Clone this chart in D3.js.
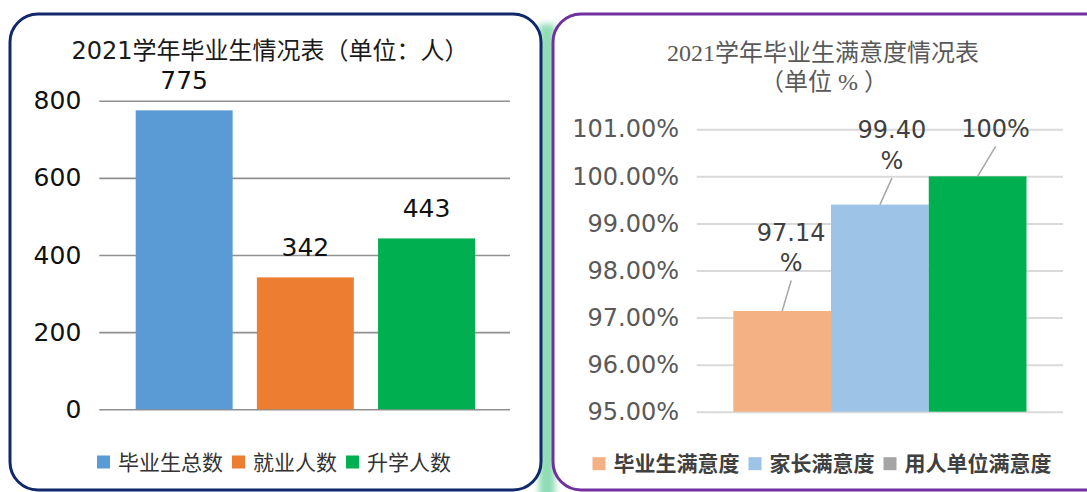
<!DOCTYPE html>
<html>
<head>
<meta charset="utf-8">
<script src="https://cdn.jsdelivr.net/npm/d3@7"></script>
<style>
  html, body { margin: 0; padding: 0; background: #fff; }
  svg { display: block; }
</style>
</head>
<body>
<svg id="chart" width="1087" height="492"></svg>
<script>
  // left chart data
  const countSeries = ['毕业生总数', '就业人数', '升学人数'];
  const countValues = [775, 342, 443];
  const countColors = ['#5b9bd5', '#ed7d31', '#00b050'];
  const countTicks = [0, 200, 400, 600, 800];

  // right chart data
  const rateSeries = ['毕业生满意度', '家长满意度', '用人单位满意度'];
  const rateValues = [97.14, 99.40, 100];
  const rateBarColors = ['#f4b183', '#9dc3e6', '#00b050'];
  const rateLegendColors = ['#f4b183', '#9dc3e6', '#a5a5a5'];
  const rateTicks = [95, 96, 97, 98, 99, 100, 101];

  // manual label placement (dx, dy of label centre from bar top centre)
  const rateLabelOffsets = [[9, -79], [12, -75], [18, -48]];

  const svg = d3.select('#chart');
  const sansFont = '"DejaVu Sans", "Noto Sans CJK SC", sans-serif';
  const cjkFont = '"Noto Sans CJK SC", sans-serif';

  // green glow between the two panels
  const defs = svg.append('defs');
  defs.append('filter').attr('id', 'glow').attr('x', '-100%').attr('width', '300%')
    .append('feGaussianBlur').attr('stdDeviation', 3);
  svg.append('rect')
    .attr('x', 539).attr('y', 24).attr('width', 16).attr('height', 476)
    .attr('fill', '#8fdcb6').attr('filter', 'url(#glow)');

  // panels
  svg.append('rect')
    .attr('x', 10).attr('y', 14).attr('width', 531).attr('height', 476)
    .attr('rx', 28).attr('fill', '#fff')
    .attr('stroke', '#11296b').attr('stroke-width', 3);
  svg.append('rect')
    .attr('x', 553).attr('y', 14).attr('width', 560).attr('height', 476)
    .attr('rx', 28).attr('fill', '#fff')
    .attr('stroke', '#7030a0').attr('stroke-width', 3);

  function drawLegend(g, names, colors, cx, cy, opts) {
    const items = g.append('g');
    let x = 0;
    names.forEach(function (name, i) {
      items.append('rect')
        .attr('x', x).attr('y', cy - 6.5).attr('width', 13).attr('height', 13)
        .attr('fill', colors[i]);
      const t = items.append('text')
        .attr('x', x + 21).attr('y', cy)
        .attr('dy', '0.36em')
        .attr('font-family', cjkFont)
        .attr('font-size', opts.size)
        .attr('font-weight', opts.weight)
        .attr('fill', opts.color)
        .text(name);
      x += 21 + t.node().getComputedTextLength() + 9;
    });
    const w = x - 9;
    items.attr('transform', 'translate(' + (cx - w / 2) + ',0)');
  }

  // ---------- left chart ----------
  (function () {
    const g = svg.append('g');
    const x0 = 99.3, x1 = 510;
    const y = d3.scaleLinear().domain([0, 800]).range([409.3, 100.7]);
    const x = d3.scaleBand().domain(countSeries).range([135.7, 475]).paddingInner(0.2);

    g.append('text')
      .attr('x', 270).attr('y', 50).attr('dy', '0.36em')
      .attr('text-anchor', 'middle')
      .attr('font-family', sansFont).attr('font-size', 24)
      .attr('fill', '#1a1a1a')
      .text('2021学年毕业生情况表（单位：人）');

    const axis = g.append('g')
      .attr('transform', 'translate(' + x0 + ',0)')
      .call(d3.axisLeft(y).tickValues(countTicks).tickSize(-(x1 - x0)).tickPadding(18).tickFormat(d3.format('d')));
    axis.select('.domain').remove();
    axis.selectAll('line').attr('stroke', '#909090').attr('stroke-width', 1.6);
    axis.selectAll('text')
      .attr('font-family', sansFont).attr('font-size', 25).attr('fill', '#111');

    g.selectAll('.bar')
      .data(countValues)
      .join('rect')
      .attr('class', 'bar')
      .attr('x', function (d, i) { return x(countSeries[i]); })
      .attr('width', x.bandwidth())
      .attr('y', function (d) { return y(d); })
      .attr('height', function (d) { return y(0) - y(d); })
      .attr('fill', function (d, i) { return countColors[i]; });

    g.selectAll('.lbl')
      .data(countValues)
      .join('text')
      .attr('class', 'lbl')
      .attr('x', function (d, i) { return x(countSeries[i]) + x.bandwidth() / 2; })
      .attr('y', function (d) { return y(d) - 21.5; })
      .attr('text-anchor', 'middle')
      .attr('font-family', sansFont).attr('font-size', 25).attr('fill', '#111')
      .text(function (d) { return d; });

    drawLegend(g, countSeries, countColors, 274, 462, { size: 21, weight: 400, color: '#333' });
  })();

  // ---------- right chart ----------
  (function () {
    const g = svg.append('g');
    const x0 = 696.7, x1 = 1063;
    const y = d3.scaleLinear().domain([95, 101]).range([411.7, 129.3]);
    const x = d3.scaleBand().domain(rateSeries).range([733.3, 1026.5]).paddingInner(0);

    const title = g.append('text')
      .attr('text-anchor', 'middle')
      .attr('font-family', '"Liberation Serif", "DejaVu Serif", "Noto Sans CJK SC", serif')
      .attr('font-size', 24)
      .attr('fill', '#595959');
    title.append('tspan').attr('x', 823).attr('y', 52).attr('dy', '0.36em').text('2021学年毕业生满意度情况表');
    title.append('tspan').attr('x', 824).attr('y', 81).attr('dy', '0.36em').text('（单位 % ）');

    const axis = g.append('g')
      .attr('transform', 'translate(' + x0 + ',0)')
      .call(d3.axisLeft(y).tickValues(rateTicks).tickSize(-(x1 - x0)).tickPadding(17.7)
        .tickFormat(function (d) { return d.toFixed(2) + '%'; }));
    axis.select('.domain').remove();
    axis.selectAll('line').attr('stroke', '#d9d9d9').attr('stroke-width', 2);
    axis.selectAll('text')
      .attr('font-family', sansFont).attr('font-size', 24).attr('fill', '#595959');

    g.selectAll('.bar')
      .data(rateValues)
      .join('rect')
      .attr('class', 'bar')
      .attr('x', function (d, i) { return x(rateSeries[i]); })
      .attr('width', x.bandwidth())
      .attr('y', function (d) { return y(d); })
      .attr('height', function (d) { return y(95) - y(d); })
      .attr('fill', function (d, i) { return rateBarColors[i]; });

    rateValues.forEach(function (v, i) {
      const bx = x(rateSeries[i]) + x.bandwidth() / 2;
      const by = y(v);
      const off = rateLabelOffsets[i];
      const lx = bx + off[0];
      const ly = by + off[1];
      const label = v === 100 ? '100%' : v.toFixed(2) + '%';
      const lines = label.length > 5 ? [label.slice(0, -1), '%'] : [label];

      const t = g.append('text')
        .attr('text-anchor', 'middle')
        .attr('font-family', sansFont).attr('font-size', 24).attr('fill', '#404040');
      lines.forEach(function (s, k) {
        t.append('tspan').attr('x', lx).attr('y', ly + k * 30.5).attr('dy', '0.36em').text(s);
      });

      const bottom = ly + (lines.length - 1) * 30.5 + 18;
      g.append('line')
        .attr('x1', bx).attr('y1', by)
        .attr('x2', lx).attr('y2', bottom)
        .attr('stroke', '#a6a6a6').attr('stroke-width', 1.5);
    });

    drawLegend(g, rateSeries, rateLegendColors, 822, 463.7, { size: 21, weight: 700, color: '#404040' });
  })();
</script>
</body>
</html>
